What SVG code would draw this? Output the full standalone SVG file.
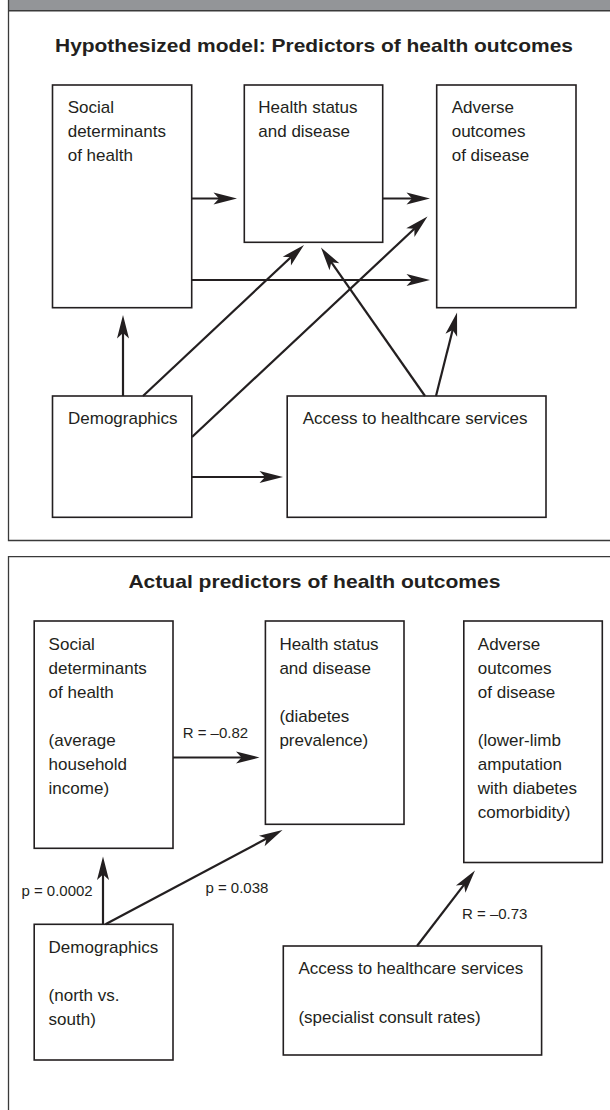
<svg xmlns="http://www.w3.org/2000/svg" width="610" height="1110" viewBox="0 0 610 1110">
<style>
text{font-family:"Liberation Sans",Arial,sans-serif;fill:#231f20}
.t{font-size:17px}
.lbl{font-size:15px}
.title{font-size:19px;font-weight:bold}
.box{fill:#fff;stroke:#231f20;stroke-width:1.6}
.frame{fill:none;stroke:#3a3a3a;stroke-width:1.3}
.c{fill:none;stroke:#231f20;stroke-width:2.2;marker-end:url(#ah)}
</style>
<defs>
<marker id="ah" markerUnits="userSpaceOnUse" viewBox="-15 -7 26 14" refX="0" refY="0" markerWidth="26" markerHeight="14" orient="auto">
<path d="M10,0 L-13.5,-6 L-8,0 L-13.5,6 Z" fill="#231f20"/>
</marker>
</defs>
<rect width="610" height="1110" fill="#fff"/>
<g id="panel1">
<rect x="8.5" y="-1" width="603" height="11.5" fill="#939598"/>
<path class="frame" d="M8.5,-2 V540.5 H612"/>
<line x1="8.5" y1="10.8" x2="612" y2="10.8" stroke="#3a3a3a" stroke-width="1.5"/>
<text class="title" x="55" y="52" textLength="518" lengthAdjust="spacingAndGlyphs">Hypothesized model: Predictors of health outcomes</text>
</g>
<g id="h-social"><rect class="box" x="52.5" y="85" width="139.2" height="222.7"/>
<text class="t" x="67.7" y="113">Social</text><text class="t" x="67.7" y="137">determinants</text><text class="t" x="67.7" y="161">of health</text></g>
<g id="h-health"><rect class="box" x="244.3" y="85" width="138.4" height="157.3"/>
<text class="t" x="258.3" y="113">Health status</text><text class="t" x="258.3" y="137">and disease</text></g>
<g id="h-adverse"><rect class="box" x="436.7" y="85" width="139.3" height="222.7"/>
<text class="t" x="451.7" y="113">Adverse</text><text class="t" x="451.7" y="137">outcomes</text><text class="t" x="451.7" y="161">of disease</text></g>
<g id="h-demo"><rect class="box" x="52.5" y="396" width="139.3" height="121.3"/>
<text class="t" x="68" y="424">Demographics</text></g>
<g id="h-access"><rect class="box" x="287.2" y="396" width="258.8" height="121.3"/>
<text class="t" x="302.7" y="424">Access to healthcare services</text></g>
<g id="panel2">
<path class="frame" d="M8.5,1112 V556.7 H612"/>
<text class="title" x="128.4" y="588" textLength="372" lengthAdjust="spacingAndGlyphs">Actual predictors of health outcomes</text>
</g>
<g id="a-social"><rect class="box" x="34.2" y="621" width="138.8" height="227.3"/>
<text class="t" x="48.6" y="650">Social</text><text class="t" x="48.6" y="674">determinants</text><text class="t" x="48.6" y="698">of health</text>
<text class="t" x="48.6" y="746">(average</text><text class="t" x="48.6" y="770">household</text><text class="t" x="48.6" y="794">income)</text></g>
<g id="a-health"><rect class="box" x="265.4" y="621" width="138.6" height="203.3"/>
<text class="t" x="279.4" y="650">Health status</text><text class="t" x="279.4" y="674">and disease</text>
<text class="t" x="279.4" y="722">(diabetes</text><text class="t" x="279.4" y="746">prevalence)</text></g>
<g id="a-adverse"><rect class="box" x="463.8" y="621" width="138.5" height="241.5"/>
<text class="t" x="477.8" y="650">Adverse</text><text class="t" x="477.8" y="674">outcomes</text><text class="t" x="477.8" y="698">of disease</text>
<text class="t" x="477.8" y="746">(lower-limb</text><text class="t" x="477.8" y="770">amputation</text><text class="t" x="477.8" y="794">with diabetes</text><text class="t" x="477.8" y="818">comorbidity)</text></g>
<g id="a-demo"><rect class="box" x="34.2" y="924.3" width="138.8" height="135.7"/>
<text class="t" x="48.6" y="952.5">Demographics</text><text class="t" x="48.6" y="1000.5">(north vs.</text><text class="t" x="48.6" y="1024.5">south)</text></g>
<g id="a-access"><rect class="box" x="283.3" y="946" width="258.3" height="109"/>
<text class="t" x="298.4" y="974">Access to healthcare services</text><text class="t" x="298.4" y="1022.5">(specialist consult rates)</text></g>
<g id="connectors">
<line class="c" x1="192" y1="198.5" x2="227" y2="198.5"/>
<line class="c" x1="383" y1="198.5" x2="420" y2="198.5"/>
<line class="c" x1="192" y1="280" x2="420" y2="280"/>
<line class="c" x1="123" y1="396" x2="123" y2="325"/>
<line class="c" x1="143" y1="396" x2="296.7" y2="251.8"/>
<line class="c" x1="192" y1="437" x2="420.2" y2="223.3"/>
<line class="c" x1="425" y1="396" x2="326.7" y2="255.7"/>
<line class="c" x1="436" y1="396" x2="454.6" y2="322.2"/>
<line class="c" x1="192" y1="477" x2="273" y2="477"/>
<line class="c" x1="173" y1="757.5" x2="249.5" y2="757.5"/>
<line class="c" x1="103" y1="924.3" x2="103" y2="866.5"/>
<line class="c" x1="105.5" y1="924.3" x2="273.7" y2="834.7"/>
<line class="c" x1="417" y1="946" x2="468.9" y2="878.4"/>
<text class="lbl" x="182.7" y="737.5">R = –0.82</text>
<text class="lbl" x="21.4" y="896">p = 0.0002</text>
<text class="lbl" x="205.4" y="892.5">p = 0.038</text>
<text class="lbl" x="462" y="919.3">R = –0.73</text>
</g>
</svg>
